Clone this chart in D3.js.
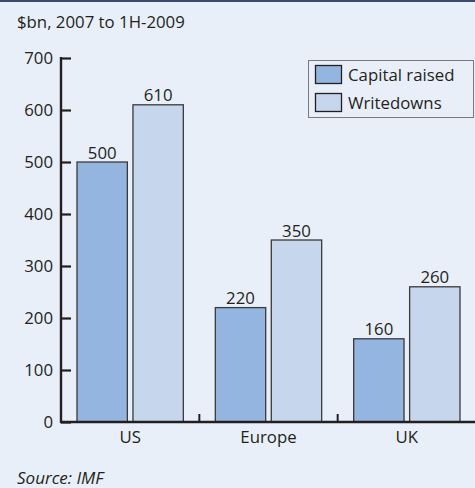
<!DOCTYPE html>
<html>
<head>
<meta charset="utf-8">
<script src="https://cdn.jsdelivr.net/npm/d3@7"></script>
<style>
  html, body { margin: 0; padding: 0; background: #e9eff8; }
  svg { display: block; }
  text { font-family: "Open Sans", "Noto Sans", sans-serif; fill: #231f20; }
</style>
</head>
<body>
<svg id="chart" width="475" height="488"></svg>
<script>
// Bank capital raised vs writedowns, $bn, 2007 to 1H-2009
const categories = ["US", "Europe", "UK"];
const seriesNames = ["Capital raised", "Writedowns"];
const capitalRaised = [500, 220, 160];
const writedowns = [610, 350, 260];
const yTicks = [0, 100, 200, 300, 400, 500, 600, 700];
const colors = ["#93b5df", "#c6d6ed"];

const W = 475, H = 488;
const FS = "16.8px";
const svg = d3.select("#chart");

svg.append("rect").attr("width", W).attr("height", H).attr("fill", "#e9eff8");
svg.append("rect").attr("width", W).attr("height", 2).attr("fill", "#3b4b6b");

svg.append("text").attr("x", 17).attr("y", 28)
  .style("font-size", FS).text("$bn, 2007 to 1H-2009");

const y = d3.scaleLinear().domain([0, 700]).range([422, 58]);
const x = d3.scaleBand().domain(categories).range([61, 476]);
const xs = d3.scaleBand().domain(seriesNames)
  .range([16, x.bandwidth() - 16]).paddingInner(0.1);

const rows = categories.map((c, i) => ({
  cat: c,
  vals: [
    { s: seriesNames[0], v: capitalRaised[i], color: colors[0] },
    { s: seriesNames[1], v: writedowns[i], color: colors[1] }
  ]
}));

const groups = svg.selectAll("g.grp").data(rows).join("g")
  .attr("class", "grp")
  .attr("transform", d => `translate(${x(d.cat)},0)`);

groups.selectAll("rect").data(d => d.vals).join("rect")
  .attr("x", d => xs(d.s))
  .attr("y", d => y(d.v))
  .attr("width", xs.bandwidth())
  .attr("height", d => y(0) - y(d.v))
  .attr("fill", d => d.color)
  .attr("stroke", "#3a3a3a")
  .attr("stroke-width", 1.3);

groups.selectAll("text.val").data(d => d.vals).join("text")
  .attr("class", "val")
  .attr("x", d => xs(d.s) + xs.bandwidth() / 2)
  .attr("y", d => y(d.v) - 3.5)
  .attr("text-anchor", "middle")
  .style("font-size", FS)
  .text(d => d.v);

// Y axis
const yAxis = svg.append("g").attr("transform", "translate(61,0)")
  .call(d3.axisRight(y).tickValues(yTicks).tickSize(10).tickFormat(""));
yAxis.select(".domain").remove();
yAxis.selectAll(".tick line").attr("stroke", "#231f20").attr("stroke-width", 2.2);
svg.append("line").attr("x1", 61).attr("x2", 61).attr("y1", 57).attr("y2", 423)
  .attr("stroke", "#231f20").attr("stroke-width", 2.4);

svg.append("g").selectAll("text").data(yTicks).join("text")
  .attr("x", 53).attr("y", d => y(d) + 6)
  .attr("text-anchor", "end")
  .style("font-size", FS)
  .text(d => d);

// X axis with group separators
svg.append("line").attr("x1", 60).attr("x2", W).attr("y1", 422).attr("y2", 422)
  .attr("stroke", "#231f20").attr("stroke-width", 2.4);
svg.append("g").selectAll("line").data(categories.slice(1)).join("line")
  .attr("x1", d => x(d)).attr("x2", d => x(d))
  .attr("y1", 422).attr("y2", 414)
  .attr("stroke", "#231f20").attr("stroke-width", 2);

svg.append("g").selectAll("text").data(categories).join("text")
  .attr("x", d => x(d) + x.bandwidth() / 2)
  .attr("y", 443)
  .attr("text-anchor", "middle")
  .style("font-size", FS)
  .text(d => d);

// Legend
const lg = svg.append("g");
lg.append("rect").attr("x", 308.5).attr("y", 60.5).attr("width", 165).attr("height", 57)
  .attr("fill", "none").attr("stroke", "#7a7a7a").attr("stroke-width", 1);
seriesNames.forEach((s, i) => {
  lg.append("rect").attr("x", 315.5).attr("y", 65.5 + i * 28)
    .attr("width", 26).attr("height", 18)
    .attr("fill", colors[i]).attr("stroke", "#231f20").attr("stroke-width", 1.3);
  lg.append("text").attr("x", 348).attr("y", 81 + i * 28)
    .style("font-size", FS).text(s);
});

svg.append("text").attr("x", 17).attr("y", 484)
  .style("font-size", "17px").style("font-style", "italic")
  .text("Source: IMF");
</script>
</body>
</html>
